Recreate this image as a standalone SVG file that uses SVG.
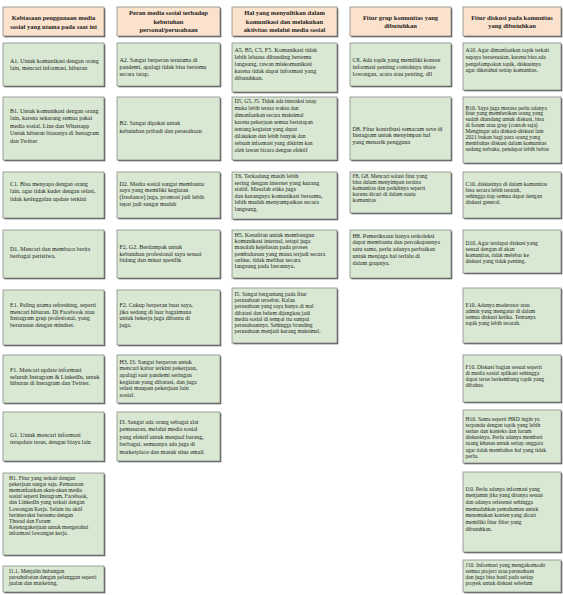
<svg xmlns="http://www.w3.org/2000/svg" width="563" height="595" viewBox="0 0 563 595">
<style>
.bg{fill:#ffffff}
.sh{fill:#5c5c5c}
.hd{fill:#fbe2cd;stroke:#8a8a8a;stroke-width:0.8}
.bx{fill:#d8e8d2;stroke:#8a8a8a;stroke-width:0.8}
.t{font-family:"Liberation Serif","Times New Roman",serif;font-size:6px;fill:#1e1e1e}
.h{font-weight:bold;font-size:6.5px;text-anchor:middle}
.s{font-size:5.6px}
</style>
<rect class="bg" x="0" y="0" width="563" height="595"/>
<g id="connectors"/>

<!-- headers -->
<g id="head-1"><rect class="sh" x="4.3" y="8.3" width="101" height="29"/><rect class="hd" x="3" y="7" width="101" height="29"/>
<text class="t h"><tspan x="53.5" y="19.5">Kebiasaan penggunaan media</tspan><tspan x="53.5" y="28.5">sosial yang utama pada saat ini</tspan></text></g>
<g id="head-2"><rect class="sh" x="118.3" y="8.3" width="103" height="29"/><rect class="hd" x="117" y="7" width="103" height="29"/>
<text class="t h"><tspan x="168.5" y="15.3">Peran media sosial terhadap</tspan><tspan x="168.5" y="23.8">kebutuhan</tspan><tspan x="168.5" y="32.3">personal/perusahaan</tspan></text></g>
<g id="head-3"><rect class="sh" x="233.3" y="8.3" width="105" height="29"/><rect class="hd" x="232" y="7" width="105" height="29"/>
<text class="t h"><tspan x="284.5" y="15.3">Hal yang menyulitkan dalam</tspan><tspan x="284.5" y="23.8">komunikasi dan melakukan</tspan><tspan x="284.5" y="32.3">aktivitas melalui media sosial</tspan></text></g>
<g id="head-4"><rect class="sh" x="351.3" y="8.3" width="101" height="29"/><rect class="hd" x="350" y="7" width="101" height="29"/>
<text class="t h"><tspan x="400.5" y="19.5">Fitur grup komunitas yang</tspan><tspan x="400.5" y="28">dibutuhkan</tspan></text></g>
<g id="head-5"><rect class="sh" x="464.3" y="8.3" width="98" height="29"/><rect class="hd" x="463" y="7" width="98" height="29"/>
<text class="t h"><tspan x="512" y="19.5">Fitur diskusi pada komunitas</tspan><tspan x="512" y="28">yang dibutuhkan</tspan></text></g>

<!-- column 1 -->
<g id="a1"><rect class="sh" x="4.3" y="44.3" width="101" height="43"/><rect class="bx" x="3" y="43" width="101" height="43"/>
<text class="t"><tspan x="10" y="62.5">A1. Untuk komunikasi dengan orang</tspan><tspan x="10" y="70">lain, mencari informasi, hiburan</tspan></text></g>
<g id="b1"><rect class="sh" x="4.3" y="98.3" width="101" height="63"/><rect class="bx" x="3" y="97" width="101" height="63"/>
<text class="t"><tspan x="10" y="112.5">B1. Untuk komunikasi dengan orang</tspan><tspan x="10" y="120">lain, karena sekarang semua pakai</tspan><tspan x="10" y="127.5">media sosial. Line dan Whatsapp</tspan><tspan x="10" y="135">Untuk hiburan biasanya di Instagram</tspan><tspan x="10" y="142.5">dan Twitter</tspan></text></g>
<g id="c1"><rect class="sh" x="4.3" y="173.3" width="101" height="46"/><rect class="bx" x="3" y="172" width="101" height="46"/>
<text class="t"><tspan x="10" y="185.5">C1. Bisa menyapa dengan orang</tspan><tspan x="10" y="193">lain, agar tidak kudet dengan relasi,</tspan><tspan x="10" y="200.5">tidak ketinggalan update terkini</tspan></text></g>
<g id="d1"><rect class="sh" x="4.3" y="231.3" width="101" height="48"/><rect class="bx" x="3" y="230" width="101" height="48"/>
<text class="t"><tspan x="10" y="250.5">D1. Mencari dan membaca berita</tspan><tspan x="10" y="257.5">berbagai peristiwa.</tspan></text></g>
<g id="e1"><rect class="sh" x="4.3" y="291.3" width="101" height="55"/><rect class="bx" x="3" y="290" width="101" height="55"/>
<text class="t"><tspan x="10" y="307">E1. Paling utama refreshing, seperti</tspan><tspan x="10" y="313.7">mencari hiburan. Di Facebook atau</tspan><tspan x="10" y="320.4">Instagram grup profesional, yang</tspan><tspan x="10" y="327.1">berurusan dengan mindset.</tspan></text></g>
<g id="f1"><rect class="sh" x="4.3" y="356.3" width="101" height="48"/><rect class="bx" x="3" y="355" width="101" height="48"/>
<text class="t"><tspan x="10" y="372">F1. Mencari update informasi</tspan><tspan x="10" y="378.5">seluruh Instagram &amp; LinkedIn, untuk</tspan><tspan x="10" y="385">hiburan di Instagram dan Twitter.</tspan></text></g>
<g id="g1"><rect class="sh" x="4.3" y="413.3" width="101" height="49"/><rect class="bx" x="3" y="412" width="101" height="49"/>
<text class="t"><tspan x="10" y="437">G1. Untuk mencari informasi</tspan><tspan x="10" y="444">terupdate terus, dengan biaya lain</tspan></text></g>
<g id="h1"><rect class="sh" x="4.3" y="474.3" width="101" height="82"/><rect class="bx" x="3" y="473" width="101" height="82"/>
<text class="t s"><tspan x="9" y="479.5">H1. Fitur yang terkait dengan</tspan><tspan x="9" y="485.7">pekerjaan sangat saja. Pemasaran</tspan><tspan x="9" y="491.9">memanfaatkan akun-akun media</tspan><tspan x="9" y="498.1">sosial seperti Instagram, Facebook,</tspan><tspan x="9" y="504.3">dan LinkedIn yang terkait dengan</tspan><tspan x="9" y="510.5">Lowongan Kerja. Selain itu aktif</tspan><tspan x="9" y="516.7">berinteraksi bersama dengan</tspan><tspan x="9" y="522.9">Thread dan Forum</tspan><tspan x="9" y="529.1">Ketenagakerjaan untuk mengetahui</tspan><tspan x="9" y="535.3">informasi lowongan kerja.</tspan></text></g>
<g id="i1"><rect class="sh" x="4.3" y="567.3" width="101" height="26"/><rect class="bx" x="3" y="566" width="101" height="26"/>
<text class="t s"><tspan x="9" y="573">I1.1. Menjalin hubungan</tspan><tspan x="9" y="579">persahabatan dengan pelanggan seperti</tspan><tspan x="9" y="585">jualan dan marketing.</tspan></text></g>

<!-- column 2 -->
<g id="a2"><rect class="sh" x="118.3" y="44.3" width="103" height="43"/><rect class="bx" x="117" y="43" width="103" height="43"/>
<text class="t"><tspan x="119.5" y="62">A2. Sangat berperan terutama di</tspan><tspan x="119.5" y="69">pandemi, apalagi tidak bisa bertemu</tspan><tspan x="119.5" y="76">secara tatap.</tspan></text></g>
<g id="b2"><rect class="sh" x="118.3" y="98.3" width="103" height="63"/><rect class="bx" x="117" y="97" width="103" height="63"/>
<text class="t"><tspan x="119.5" y="125">B2. Sangat dipakai untuk</tspan><tspan x="119.5" y="132.5">kebutuhan pribadi dan perusahaan</tspan></text></g>
<g id="c2"><rect class="sh" x="118.3" y="173.3" width="103" height="46"/><rect class="bx" x="117" y="172" width="103" height="46"/>
<text class="t"><tspan x="119.5" y="185.5">D2. Media sosial sangat membantu</tspan><tspan x="119.5" y="192.3">saya yang memiliki kegiatan</tspan><tspan x="119.5" y="199.1">(freelance) juga, promosi jadi lebih</tspan><tspan x="119.5" y="205.9">tepat jadi sangat mudah</tspan></text></g>
<g id="d2"><rect class="sh" x="118.3" y="231.3" width="103" height="48"/><rect class="bx" x="117" y="230" width="103" height="48"/>
<text class="t"><tspan x="119.5" y="249">F2, G2. Berdampak untuk</tspan><tspan x="119.5" y="255.5">kebutuhan profesional saya sesuai</tspan><tspan x="119.5" y="262">bidang dan minat spesifik</tspan></text></g>
<g id="e2"><rect class="sh" x="118.3" y="291.3" width="103" height="55"/><rect class="bx" x="117" y="290" width="103" height="55"/>
<text class="t"><tspan x="119.5" y="307">F2. Cukup berperan buat saya,</tspan><tspan x="119.5" y="313.7">jika sedang di luar bagaimana</tspan><tspan x="119.5" y="320.4">untuk bekerja juga dibantu di</tspan><tspan x="119.5" y="327.1">juga.</tspan></text></g>
<g id="f2"><rect class="sh" x="118.3" y="356.3" width="103" height="48"/><rect class="bx" x="117" y="355" width="103" height="48"/>
<text class="t"><tspan x="119.5" y="363.5">H3, I3. Sangat berperan untuk</tspan><tspan x="119.5" y="370.2">mencari kabar terkini pekerjaan,</tspan><tspan x="119.5" y="376.9">apalagi saat pandemi seringan</tspan><tspan x="119.5" y="383.6">kegiatan yang dibatasi, dan juga</tspan><tspan x="119.5" y="390.3">relasi maupun pekerjaan lain</tspan><tspan x="119.5" y="397">sosial.</tspan></text></g>
<g id="g2"><rect class="sh" x="118.3" y="413.3" width="103" height="49"/><rect class="bx" x="117" y="412" width="103" height="49"/>
<text class="t"><tspan x="119.5" y="423.5">I3. Sangat ada orang sebagai alat</tspan><tspan x="119.5" y="431">pemasaran, melalui media sosial</tspan><tspan x="119.5" y="438.5">yang efektif untuk menjual barang,</tspan><tspan x="119.5" y="446">berbagai, semuanya ada juga di</tspan><tspan x="119.5" y="453.5">marketplace dan masuk situs email.</tspan></text></g>

<!-- column 3 -->
<g id="a3"><rect class="sh" x="233.3" y="44.3" width="105" height="49"/><rect class="bx" x="232" y="43" width="105" height="49"/>
<text class="t"><tspan x="234.5" y="52">A5, B5, C5, F5. Komunikasi tidak</tspan><tspan x="234.5" y="59">lebih leluasa dibanding bertemu</tspan><tspan x="234.5" y="66">langsung, rawan miskomunikasi</tspan><tspan x="234.5" y="73">karena tidak dapat informasi yang</tspan><tspan x="234.5" y="80">dibutuhkan.</tspan></text></g>
<g id="b3"><rect class="sh" x="233.3" y="98.3" width="105" height="63"/><rect class="bx" x="232" y="97" width="105" height="63"/>
<text class="t s"><tspan x="234.5" y="103">D5, G5, J5. Tidak ada interaksi tatap</tspan><tspan x="234.5" y="110">muka lebih terasa waktu dan</tspan><tspan x="234.5" y="117">dimanfaatkan secara maksimal</tspan><tspan x="234.5" y="124">karena pekerjaan semua bertatapan</tspan><tspan x="234.5" y="131">tentang kegiatan yang dapat</tspan><tspan x="234.5" y="138">dilakukan dan lebih banyak dan</tspan><tspan x="234.5" y="145">sebuah informasi yang dikirim kan</tspan><tspan x="234.5" y="152">oleh lawan bicara dengan efektif</tspan></text></g>
<g id="c3"><rect class="sh" x="233.3" y="173.3" width="105" height="47"/><rect class="bx" x="232" y="172" width="105" height="47"/>
<text class="t"><tspan x="234.5" y="178">T6. Terkadang masih lebih</tspan><tspan x="234.5" y="184.6">sering dengan internet yang kurang</tspan><tspan x="234.5" y="191.2">stabil. Masalah etika juga</tspan><tspan x="234.5" y="197.8">dan kurangnya komunikasi bersama,</tspan><tspan x="234.5" y="204.4">lebih mudah menyampaikan secara</tspan><tspan x="234.5" y="211">langsung.</tspan></text></g>
<g id="d3"><rect class="sh" x="233.3" y="231.3" width="105" height="48"/><rect class="bx" x="232" y="230" width="105" height="48"/>
<text class="t"><tspan x="234.5" y="237">H5. Kesulitan untuk membangun</tspan><tspan x="234.5" y="243.2">komunikasi internal, tetapi juga</tspan><tspan x="234.5" y="249.4">masalah kejelasan pada proses</tspan><tspan x="234.5" y="255.6">pembahasan yang mana terjadi secara</tspan><tspan x="234.5" y="261.8">online, tidak melihat secara</tspan><tspan x="234.5" y="268">langsung pada lawannya.</tspan></text></g>
<g id="e3"><rect class="sh" x="233.3" y="289.3" width="105" height="55"/><rect class="bx" x="232" y="288" width="105" height="55"/>
<text class="t s"><tspan x="234.5" y="296">I5. Sangat bergantung pada fitur</tspan><tspan x="234.5" y="302.2">perusahaan tersebut. Kalau</tspan><tspan x="234.5" y="308.4">perusahaan yang saya hanya di mal</tspan><tspan x="234.5" y="314.6">dibatasi dan belum dijangkau jadi</tspan><tspan x="234.5" y="320.8">media sosial di tempat itu sampai</tspan><tspan x="234.5" y="327">perusahaannya. Sehingga branding</tspan><tspan x="234.5" y="333.2">perusahaan menjadi kurang maksimal.</tspan></text></g>

<!-- column 4 -->
<g id="a4"><rect class="sh" x="351.3" y="44.3" width="101" height="43"/><rect class="bx" x="350" y="43" width="101" height="43"/>
<text class="t"><tspan x="352.5" y="62">C8. Ada topik yang memiliki konten</tspan><tspan x="352.5" y="69">informasi penting contohnya share</tspan><tspan x="352.5" y="76">lowongan, acara atau penting, dll</tspan></text></g>
<g id="b4"><rect class="sh" x="351.3" y="98.3" width="101" height="63"/><rect class="bx" x="350" y="97" width="101" height="63"/>
<text class="t"><tspan x="352.5" y="130.5">D8. Fitur kontribusi semacam save di</tspan><tspan x="352.5" y="137.3">Instagram untuk menyimpan hal</tspan><tspan x="352.5" y="144.1">yang menarik pengguna</tspan></text></g>
<g id="c4"><rect class="sh" x="351.3" y="173.3" width="101" height="41"/><rect class="bx" x="350" y="172" width="101" height="41"/>
<text class="t s"><tspan x="352.5" y="178">F8, G8. Mencari solusi fitur yang</tspan><tspan x="352.5" y="184">bisa dalam menyimpan terdata</tspan><tspan x="352.5" y="190">komunitas dan pedulinya seperti</tspan><tspan x="352.5" y="196">karena dicari di dalam suatu</tspan><tspan x="352.5" y="202">komunitas</tspan></text></g>
<g id="d4"><rect class="sh" x="351.3" y="231.3" width="101" height="48"/><rect class="bx" x="350" y="230" width="101" height="48"/>
<text class="t"><tspan x="352.5" y="237.5">H8. Pemeriksaan hanya terkoleksi</tspan><tspan x="352.5" y="244.3">dapat membantu dan percakapannya</tspan><tspan x="352.5" y="251.1">satu sama, perlu adanya perbaikan</tspan><tspan x="352.5" y="257.9">untuk menjaga hal terlalu di</tspan><tspan x="352.5" y="264.7">dalam grupnya.</tspan></text></g>

<!-- column 5 -->
<g id="a5"><rect class="sh" x="464.3" y="44.3" width="98" height="47"/><rect class="bx" x="463" y="43" width="98" height="47"/>
<text class="t s"><tspan x="465.5" y="52">A10. Agar dimanfaatkan topik terkait</tspan><tspan x="465.5" y="58.8">supaya bersesuaian, karena bisa ada</tspan><tspan x="465.5" y="65.6">pengelompokan topik, diskusinya</tspan><tspan x="465.5" y="72.4">agar diketahui setiap komunitas.</tspan></text></g>
<g id="b5"><rect class="sh" x="464.3" y="98.3" width="98" height="66"/><rect class="bx" x="463" y="97" width="98" height="66"/>
<text class="t s"><tspan x="465.5" y="109.5">B10. Saya juga merasa perlu adanya</tspan><tspan x="465.5" y="115.4">fitur yang memberikan orang yang</tspan><tspan x="465.5" y="121.3">sudah diundang untuk diskusi, bisa</tspan><tspan x="465.5" y="127.2">di forum atau grup (contoh saja)</tspan><tspan x="465.5" y="133.1">Mengingat ada diskusi-diskusi lain</tspan><tspan x="465.5" y="139">2021 bukan bagi para orang yang</tspan><tspan x="465.5" y="144.9">membahas diskusi dalam komunitas</tspan><tspan x="465.5" y="150.8">sedang terbuka, pendapat lebih bebas</tspan></text></g>
<g id="c5"><rect class="sh" x="464.3" y="173.3" width="98" height="46"/><rect class="bx" x="463" y="172" width="98" height="46"/>
<text class="t s"><tspan x="465.5" y="185.5">C10. diskusinya di dalam komunitas</tspan><tspan x="465.5" y="191.5">bisa secara lebih terarah,</tspan><tspan x="465.5" y="197.5">sehingga tiap semua dapat dengan</tspan><tspan x="465.5" y="203.5">diskusi general.</tspan></text></g>
<g id="d5"><rect class="sh" x="464.3" y="231.3" width="98" height="43"/><rect class="bx" x="463" y="230" width="98" height="43"/>
<text class="t s"><tspan x="465.5" y="245">D10. Agar terdapat diskusi yang</tspan><tspan x="465.5" y="251">sesuai dengan di akan</tspan><tspan x="465.5" y="257">komunitas, tidak melebar ke</tspan><tspan x="465.5" y="263">diskusi yang tidak penting.</tspan></text></g>
<g id="e5"><rect class="sh" x="464.3" y="289.3" width="98" height="55"/><rect class="bx" x="463" y="288" width="98" height="55"/>
<text class="t s"><tspan x="465.5" y="307">E10. Adanya moderator atau</tspan><tspan x="465.5" y="313">admin yang mengatur di dalam</tspan><tspan x="465.5" y="319">semua diskusi ketika. Tentunya</tspan><tspan x="465.5" y="325">topik yang lebih terarah.</tspan></text></g>
<g id="f5"><rect class="sh" x="464.3" y="356.3" width="98" height="47"/><rect class="bx" x="463" y="355" width="98" height="47"/>
<text class="t s"><tspan x="465.5" y="369">F10. Diskusi bagian sesuai seperti</tspan><tspan x="465.5" y="375">di media sosial aplikasi sehingga</tspan><tspan x="465.5" y="381">dapat terus berkembang topik yang</tspan><tspan x="465.5" y="387">dibahas.</tspan></text></g>
<g id="g5"><rect class="sh" x="464.3" y="411.3" width="98" height="53"/><rect class="bx" x="463" y="410" width="98" height="53"/>
<text class="t s"><tspan x="465.5" y="420.5">H10. Sama seperti HRD ingin ya</tspan><tspan x="465.5" y="426.7">terpandu dengan topik yang lebih</tspan><tspan x="465.5" y="432.9">serius dan konteks dan forum</tspan><tspan x="465.5" y="439.1">diskusinya. Perlu adanya memberi</tspan><tspan x="465.5" y="445.3">ruang khusus untuk setiap anggota</tspan><tspan x="465.5" y="451.5">agar tidak membahas hal yang tidak</tspan><tspan x="465.5" y="457.7">perlu.</tspan></text></g>
<g id="h5"><rect class="sh" x="464.3" y="473.3" width="98" height="80"/><rect class="bx" x="463" y="472" width="98" height="80"/>
<text class="t s"><tspan x="465.5" y="490.5">I10. Perlu adanya informasi yang</tspan><tspan x="465.5" y="497.2">menjamin jika yang ditanya sesuai</tspan><tspan x="465.5" y="503.9">dan adanya referensi sehingga</tspan><tspan x="465.5" y="510.6">memudahkan pemahaman untuk</tspan><tspan x="465.5" y="517.3">menemukan konten yang dicari</tspan><tspan x="465.5" y="524">memiliki fitur filter yang</tspan><tspan x="465.5" y="530.7">dibutuhkan.</tspan></text></g>
<g id="i5"><rect class="sh" x="464.3" y="561.3" width="98" height="32"/><rect class="bx" x="463" y="560" width="98" height="32"/>
<text class="t s"><tspan x="465.5" y="566.5">J10. Informasi yang mengakomodir</tspan><tspan x="465.5" y="572.5">semua project atau perusahaan</tspan><tspan x="465.5" y="578.5">dan juga bisa hasil pada setiap</tspan><tspan x="465.5" y="584.5">proyek untuk diskusi sebelum</tspan></text></g>
</svg>
